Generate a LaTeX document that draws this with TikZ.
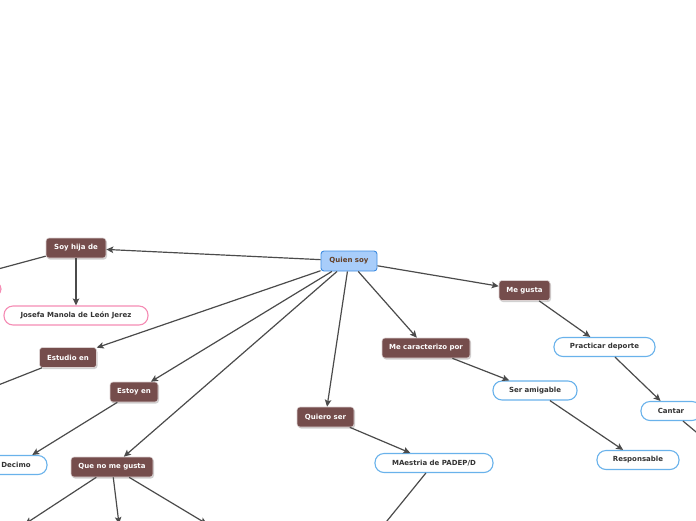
\documentclass[tikz,border=0pt]{standalone}
\usepackage{fontspec}
\setmainfont{DejaVu Sans}
\usetikzlibrary{arrows.meta,shadows}

\definecolor{topicbrown}{RGB}{117,77,76}
\definecolor{rootfill}{RGB}{168,205,250}
\definecolor{rootline}{RGB}{62,140,225}
\definecolor{roottext}{RGB}{100,62,35}
\definecolor{leafblue}{RGB}{105,178,235}
\definecolor{leafpink}{RGB}{245,140,180}
\definecolor{linkgray}{RGB}{75,75,75}

\begin{document}
\begin{tikzpicture}[
  x=1pt,y=-1pt,
  every node/.style={font=\fontsize{7}{8}\selectfont\bfseries,inner sep=1pt},
  root/.style={draw=rootline,fill=rootfill,text=roottext,line width=0.9pt,rounded corners=3pt,minimum height=20pt},
  topic/.style={draw=white!75!topicbrown,fill=topicbrown,text=white,line width=0.6pt,rounded corners=3pt,minimum height=20pt,
    drop shadow={shadow xshift=1pt,shadow yshift=-1.5pt,opacity=0.3,fill=black!60}},
  leafb/.style={draw=leafblue,fill=white,text=black!80,line width=1.1pt,rounded corners=9pt,minimum height=19pt},
  leafp/.style={draw=leafpink,fill=white,text=black!80,line width=1.1pt,rounded corners=9pt,minimum height=19pt},
  link/.style={draw=linkgray,line width=1.2pt,-{Stealth[length=7pt,width=6.5pt,inset=1.5pt]}}
]
  \useasboundingbox (0,0) rectangle (696,520);
  \clip (0,0) rectangle (696,520);

  % nodes
  \node[root,minimum width=56pt] (quien) at (349,261) {Quien soy};
  \node[topic,minimum width=60pt] (hija) at (76,248) {Soy hija de};
  \node[leafp,minimum width=144pt] (josefa) at (76,315.5) {Josefa Manola de León Jerez};
  \node[leafp,minimum width=154pt,minimum height=17pt] (hijaotro) at (-76,289) {};
  \node[topic,minimum width=57pt] (estudio) at (68,357.5) {Estudio en};
  \node[topic,minimum width=48pt] (estoy) at (134,392) {Estoy en};
  \node[leafb,minimum width=62pt] (decimo) at (16,465) {Decimo};
  \node[topic,minimum width=82pt] (nogusta) at (112,467) {Que no me gusta};
  \node[topic,minimum width=57pt] (quiero) at (325.5,417) {Quiero ser};
  \node[leafb,minimum width=118pt] (maestria) at (434,463) {MAestria de PADEP/D};
  \node[topic,minimum width=88pt] (caract) at (426,348) {Me caracterizo por};
  \node[leafb,minimum width=84pt] (amigable) at (535,390.5) {Ser amigable};
  \node[leafb,minimum width=82pt] (respons) at (638,460) {Responsable};
  \node[topic,minimum width=51pt] (megusta) at (524.5,290.5) {Me gusta};
  \node[leafb,minimum width=101pt] (deporte) at (604.5,347) {Practicar deporte};
  \node[leafb,minimum width=60pt] (cantar) at (671,411) {Cantar};

  % free ends off the page
  \coordinate (estudiofin) at (-60,408);
  \coordinate (nogustaa) at (25,524);
  \coordinate (nogustab) at (119,524);
  \coordinate (nogustac) at (207,524);
  \coordinate (maestriafin) at (378,532);
  \coordinate (cantarfin) at (720,452);

  % connectors
  \draw[link] (quien) -- (hija);
  \draw[link] (quien) -- (estudio);
  \draw[link] (quien) -- (estoy);
  \draw[link] (quien) -- (nogusta);
  \draw[link] (quien) -- (quiero);
  \draw[link] (quien) -- (caract);
  \draw[link] (quien) -- (megusta);
  \draw[link] (hija) -- (josefa);
  \draw[link] (hija) -- (hijaotro);
  \draw[link] (estudio) -- (estudiofin);
  \draw[link] (estoy) -- (decimo);
  \draw[link] (nogusta) -- (nogustaa);
  \draw[link] (nogusta) -- (nogustab);
  \draw[link] (nogusta) -- (nogustac);
  \draw[link] (quiero) -- (maestria);
  \draw[link] (maestria) -- (maestriafin);
  \draw[link] (caract) -- (amigable);
  \draw[link] (amigable) -- (respons);
  \draw[link] (megusta) -- (deporte);
  \draw[link] (deporte) -- (cantar);
  \draw[link] (cantar) -- (cantarfin);
\end{tikzpicture}
\end{document}
